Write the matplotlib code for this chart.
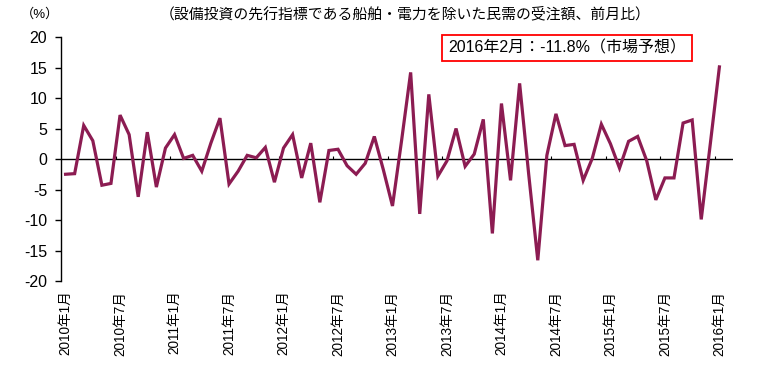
#!/usr/bin/env python3
"""Core machinery orders, month-on-month change (2010/1 - 2016/1)."""

import matplotlib
matplotlib.use("Agg")
import matplotlib.pyplot as plt
import numpy as np

plt.rcParams['font.family'] = ['Liberation Sans', 'Noto Sans CJK JP', 'DejaVu Sans']

# monthly values, 2010年1月 .. 2016年1月 (%)
months = [f"{y}年{m}月" for y in range(2010, 2017) for m in range(1, 13)][:73]
mom_change = [
    -2.5, -2.4, 5.5, 3.0, -4.3, -4.0, 7.2, 4.0, -6.2, 4.4, -4.6, 1.8,
    4.0, 0.1, 0.6, -2.0, 2.6, 6.7, -4.1, -2.0, 0.6, 0.2, 1.9, -3.8,
    1.8, 4.0, -3.1, 2.6, -7.1, 1.4, 1.6, -1.1, -2.5, -0.7, 3.7, -1.8,
    -7.7, 3.0, 14.2, -9.0, 10.6, -2.8, -0.3, 5.0, -1.2, 0.8, 6.5, -12.2,
    9.1, -3.5, 12.4, -2.5, -16.6, 0.6, 7.4, 2.2, 2.4, -3.5, 0.1, 5.7,
    2.5, -1.5, 2.9, 3.7, -0.3, -6.7, -3.1, -3.1, 5.9, 6.4, -9.9, 2.5,
    15.1,
]
label_step = 6
yticks = [20, 15, 10, 5, 0, -5, -10, -15, -20]

title = "（設備投資の先行指標である船舶・電力を除いた民需の受注額、前月比）"
note = "2016年2月：-11.8%（市場予想）"

line_color = '#8C1C52'

fig = plt.figure(figsize=(7.6, 3.8), dpi=100)
ax = fig.add_axes([0.0803, 0.2605, 0.8842, 0.6421])

x = np.arange(len(mom_change))
ax.plot(x, mom_change, color=line_color, lw=2.3, solid_joinstyle='miter', zorder=3)
ax.axhline(0, color='black', lw=1.0, zorder=2)

# small category ticks sitting on the zero line
tick_pos = np.arange(label_step - 0.5, len(mom_change), label_step)
ax.vlines(tick_pos, 0, 0.5, color='black', lw=0.8, zorder=2)

ax.set_xlim(-0.5, len(mom_change) + 0.5)
ax.set_ylim(-20, 20)
ax.set_yticks(yticks)
ax.set_yticklabels([str(v) for v in yticks], fontsize=11.5)
ax.tick_params(axis='y', direction='out', length=4, width=1, pad=6)

ax.set_xticks(x[::label_step])
ax.set_xticklabels(months[::label_step], rotation=90, fontsize=9.8)
ax.tick_params(axis='x', length=0, pad=7)

for side in ('top', 'right', 'bottom'):
    ax.spines[side].set_visible(False)
ax.spines['left'].set_linewidth(1.0)

fig.text(0.053, 0.962, "（%）", fontsize=9.5, ha='center', va='center')
fig.text(0.533, 0.962, title, fontsize=10.7, ha='center', va='center')
fig.text(0.746, 0.873, note, fontsize=11.5, ha='center', va='center',
         bbox=dict(boxstyle='square,pad=0.35', fc='white', ec='#FF0000', lw=1.3))

fig.savefig('out.png', dpi=100)
plt.close(fig)
